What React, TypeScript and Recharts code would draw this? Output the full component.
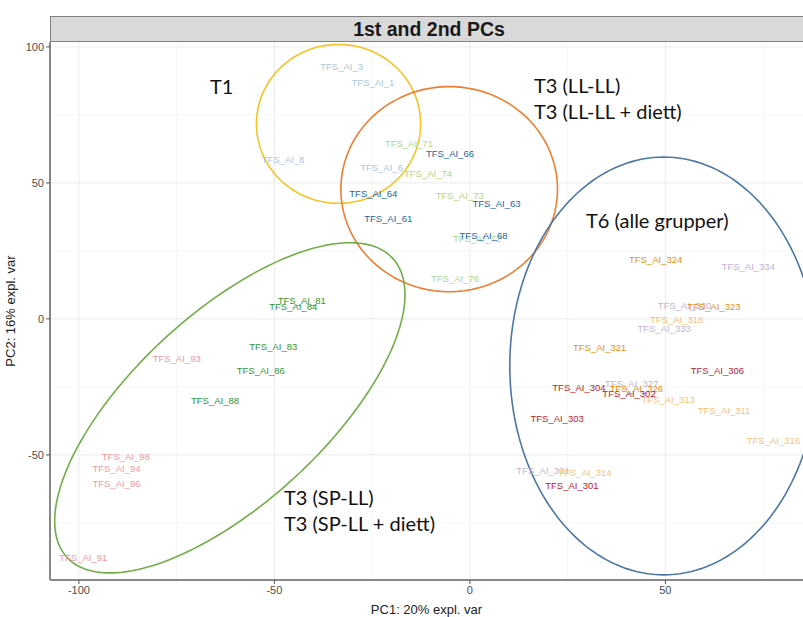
import React from 'react';
import { ScatterChart, Scatter, XAxis, YAxis, CartesianGrid, ReferenceLine } from 'recharts';

// sample labels: [name, PC1, PC2]
const t1Samples: [string, number, number][] = [
  ['TFS_AI_3', -32.8, 92.8],
  ['TFS_AI_1', -24.8, 86.9],
  ['TFS_AI_8', -47.8, 58.5],
  ['TFS_AI_6', -22.6, 55.8],
];
const llSamples: [string, number, number][] = [
  ['TFS_AI_66', -5.1, 60.9],
  ['TFS_AI_64', -24.7, 46.2],
  ['TFS_AI_63', 6.8, 42.5],
  ['TFS_AI_61', -20.9, 36.8],
  ['TFS_AI_68', 3.5, 30.5],
];
const llDiettSamples: [string, number, number][] = [
  ['TFS_AI_71', -15.6, 64.3],
  ['TFS_AI_74', -10.7, 53.6],
  ['TFS_AI_73', -2.6, 45.2],
  ['TFS_AI_72', 1.8, 29.4],
  ['TFS_AI_76', -3.8, 14.7],
];
const spSamples: [string, number, number][] = [
  ['TFS_AI_81', -43, 6.7],
  ['TFS_AI_84', -45.2, 4.5],
  ['TFS_AI_83', -50.3, -10.2],
  ['TFS_AI_86', -53.5, -19.1],
  ['TFS_AI_88', -65.2, -30.1],
];
const spDiettSamples: [string, number, number][] = [
  ['TFS_AI_93', -75, -14.5],
  ['TFS_AI_98', -88, -50.6],
  ['TFS_AI_94', -90.4, -55.1],
  ['TFS_AI_96', -90.4, -60.7],
  ['TFS_AI_91', -98.9, -87.6],
];
const t6RedSamples: [string, number, number][] = [
  ['TFS_AI_304', 27.9, -25.2],
  ['TFS_AI_302', 40.7, -27.3],
  ['TFS_AI_306', 63.3, -18.8],
  ['TFS_AI_303', 22.3, -36.5],
  ['TFS_AI_301', 26.1, -61.3],
];
const t6OrangeSamples: [string, number, number][] = [
  ['TFS_AI_324', 47.5, 21.7],
  ['TFS_AI_323', 62.4, 4.5],
  ['TFS_AI_321', 33.2, -10.4],
  ['TFS_AI_326', 42.6, -25.7],
];
const t6LightOrangeSamples: [string, number, number][] = [
  ['TFS_AI_318', 52.9, -0.4],
  ['TFS_AI_313', 50.7, -29.8],
  ['TFS_AI_311', 65, -33.5],
  ['TFS_AI_316', 77.6, -44.7],
  ['TFS_AI_314', 29.4, -56.6],
];
const t6PurpleSamples: [string, number, number][] = [
  ['TFS_AI_334', 71.2, 19.2],
  ['TFS_AI_330', 54.9, 4.8],
  ['TFS_AI_333', 49.7, -3.6],
  ['TFS_AI_327', 41.4, -23.9],
  ['TFS_AI_331', 18.7, -55.9],
];

const xTicks = [-100, -50, 0, 50];
const yTicks = [-50, 0, 50, 100];
const xMinor = [-75, -25, 25, 75];
const yMinor = [-75, -25, 25, 75];

// hand drawn group rings: [centerX, centerY, radiusX, radiusY, tilt(correlation), colour]
const rings: [number, number, number, number, number, string][] = [
  [-33.6, 71.7, 21, 29.2, 0, '#f6c324'],
  [-5.3, 47.7, 27.7, 37.7, 0, '#ed7d31'],
  [49.6, -17.3, 39.4, 76.8, 0, '#4a76a6'],
  [-61.4, -32.7, 44.8, 60.7, 0.686, '#70ad47'],
];

const toPoints = (rows: [string, number, number][]) => rows.map(([name, x, y]) => ({ name, x, y }));

const ringOutline = (cx: number, cy: number, rx: number, ry: number, rho: number) => {
  const pts = [];
  const k = Math.sqrt(1 - rho * rho);
  for (let i = 0; i <= 180; i++) {
    const t = (Math.PI * 2 * i) / 180;
    pts.push({ x: cx + rx * Math.cos(t), y: cy + ry * (rho * Math.cos(t) + k * Math.sin(t)) });
  }
  return pts;
};

const labelShape = (color: string) => (props: any) => (
  <text
    x={props.cx}
    y={props.cy}
    textAnchor="middle"
    dominantBaseline="central"
    fill={color}
    fontSize={9.5}
    fontFamily="'Liberation Sans', Arial, sans-serif"
  >
    {props.payload.name}
  </text>
);

const groups: [string, [string, number, number][], string][] = [
  ['purple', t6PurpleSamples, '#c4b2d6'],
  ['lightorange', t6LightOrangeSamples, '#f7c27a'],
  ['t1', t1Samples, '#a9c8de'],
  ['lldiett', llDiettSamples, '#aed68a'],
  ['spdiett', spDiettSamples, '#ef9a9f'],
  ['ll', llSamples, '#2166a0'],
  ['sp', spSamples, '#33962e'],
  ['orange', t6OrangeSamples, '#e8900c'],
  ['red', t6RedSamples, '#c0192f'],
];

const noteStyle: React.CSSProperties = {
  position: 'absolute',
  fontFamily: 'Lato, sans-serif',
  fontSize: 20,
  color: '#111',
  whiteSpace: 'nowrap',
  lineHeight: '26px',
};

export default function App() {
  return (
    <div style={{ position: 'absolute', left: 0, top: 0, width: 803, height: 617, overflow: 'hidden', background: '#fff' }}>
      <ScatterChart width={803} height={617} margin={{ top: 42, right: 0, bottom: 0, left: 0 }}>
        <CartesianGrid stroke="#ebebeb" horizontalValues={yTicks} verticalValues={xTicks} />
        {xMinor.map((v) => (
          <ReferenceLine key={'x' + v} x={v} stroke="#f5f5f5" strokeWidth={1} />
        ))}
        {yMinor.map((v) => (
          <ReferenceLine key={'y' + v} y={v} stroke="#f5f5f5" strokeWidth={1} />
        ))}
        <XAxis
          type="number"
          dataKey="x"
          domain={[-107.4, 85.2]}
          ticks={xTicks}
          allowDataOverflow
          height={37}
          tick={{ fill: '#4d4d4d', fontSize: 11, fontFamily: 'Liberation Sans' }}
          tickLine={{ stroke: '#555' }}
          tickSize={4}
          axisLine={{ stroke: '#888', strokeWidth: 2 }}
          label={{ value: 'PC1: 20% expl. var', position: 'insideBottom', offset: 3, fill: '#222', fontSize: 13, fontFamily: 'Liberation Sans' }}
        />
        <YAxis
          type="number"
          dataKey="y"
          domain={[-96, 101.8]}
          ticks={yTicks}
          allowDataOverflow
          width={50}
          tick={{ fill: '#4d4d4d', fontSize: 11, fontFamily: 'Liberation Sans' }}
          tickLine={{ stroke: '#555' }}
          tickSize={4}
          axisLine={{ stroke: '#888', strokeWidth: 2 }}
          label={{ value: 'PC2: 16% expl. var', angle: -90, position: 'insideLeft', offset: 10, fill: '#222', fontSize: 13, fontFamily: 'Liberation Sans', style: { textAnchor: 'middle' } }}
        />
        {rings.map(([cx, cy, rx, ry, rho, color], i) => (
          <Scatter
            key={'ring' + i}
            data={ringOutline(cx, cy, rx, ry, rho)}
            fill={color}
            line={{ stroke: color, strokeWidth: 1.6 }}
            shape={() => <g />}
            isAnimationActive={false}
            legendType="none"
          />
        ))}
        {groups.map(([id, rows, color]) => (
          <Scatter
            key={id}
            data={toPoints(rows)}
            fill={color}
            shape={labelShape(color)}
            isAnimationActive={false}
            legendType="none"
          />
        ))}
      </ScatterChart>

      {/* facet strip */}
      <div
        style={{
          position: 'absolute',
          left: 50,
          top: 16,
          width: 760,
          height: 24,
          background: '#d9d9d9',
          border: '1.5px solid #7f7f7f',
          boxSizing: 'content-box',
          fontFamily: "'Liberation Sans', Arial, sans-serif",
          fontWeight: 'bold',
          fontSize: 19.5,
          lineHeight: '24px',
          color: '#1a1a1a',
        }}
      >
        <span style={{ position: 'absolute', left: 0, width: 756, textAlign: 'center' }}>1st and 2nd PCs</span>
      </div>

      <div style={{ ...noteStyle, left: 210, top: 73 }}>T1</div>
      <div style={{ ...noteStyle, left: 534, top: 72 }}>
        T3 (LL-LL)
        <br />
        T3 (LL-LL + diett)
      </div>
      <div style={{ ...noteStyle, left: 586, top: 207 }}>T6 (alle grupper)</div>
      <div style={{ ...noteStyle, left: 284, top: 484 }}>
        T3 (SP-LL)
        <br />
        T3 (SP-LL + diett)
      </div>
    </div>
  );
}
